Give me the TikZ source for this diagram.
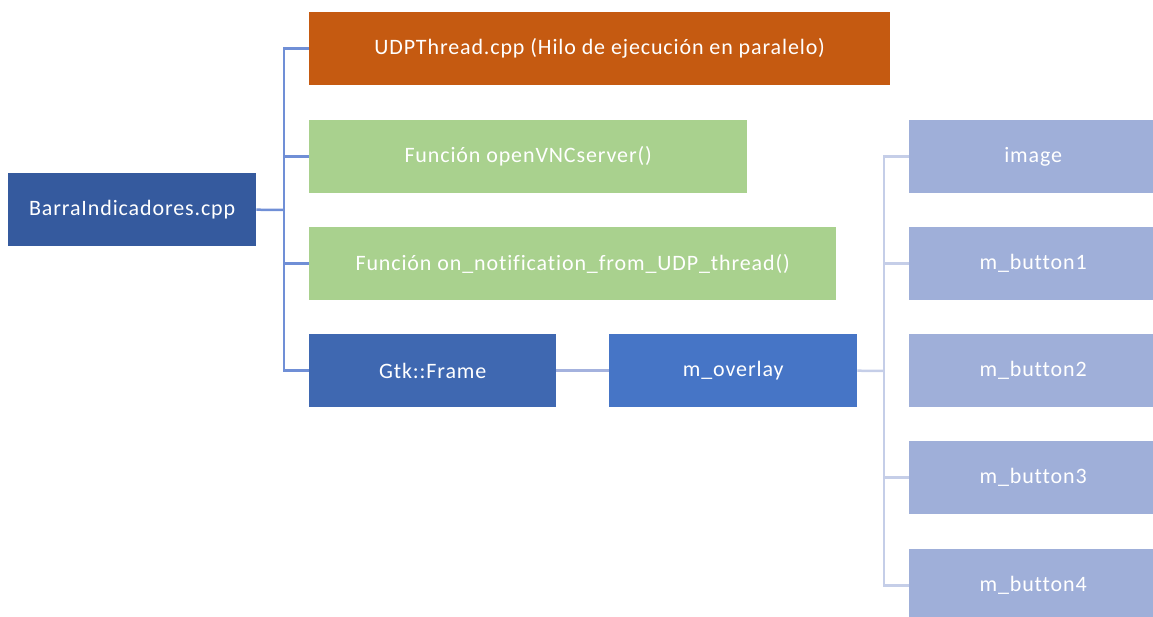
\documentclass[tikz,border=0pt]{standalone}
\usepackage{fontspec}
\setmainfont{Carlito}[LetterSpace=4,Ligatures={NoCommon}]
\begin{document}
\begin{tikzpicture}[x=1pt,y=-1pt,
  box/.style={draw=none,inner sep=0pt,anchor=north west,minimum height=73pt,
    text=white,font=\fontsize{22}{26}\selectfont},
  lvlA/.style={line width=2.5pt,draw={rgb,255:red,112;green,143;blue,214}},
  lvlB/.style={line width=2.5pt,draw={rgb,255:red,164;green,178;blue,222}},
  lvlC/.style={line width=2.5pt,draw={rgb,255:red,197;green,206;blue,232}}]
\useasboundingbox (0,0) rectangle (1153,616);
\definecolor{rootblue}{RGB}{53,90,158}
\definecolor{threadorange}{RGB}{197,90,17}
\definecolor{funcgreen}{RGB}{169,209,142}
\definecolor{frameblue}{RGB}{63,104,177}
\definecolor{overlayblue}{RGB}{70,117,198}
\definecolor{childblue}{RGB}{159,175,217}

% root
\node[box,fill=rootblue,minimum width=248pt] (barra) at (8,173) {BarraIndicadores.cpp};

% first level
\node[box,fill=threadorange,minimum width=581pt] (udp) at (309,12) {UDPThread.cpp (Hilo de ejecución en paralelo)};
\node[box,fill=funcgreen,minimum width=438pt] (vnc) at (309,120) {Función openVNCserver()};
\node[box,fill=funcgreen,minimum width=527pt] (notif) at (309,227) {Función on\_notification\_from\_UDP\_thread()};
\node[box,fill=frameblue,minimum width=247pt] (gtk) at (309,334) {Gtk::Frame};

% second level
\node[box,fill=overlayblue,minimum width=248pt] (ovl) at (609,334) {m\_overlay};

% children of m_overlay
\node[box,fill=childblue,minimum width=248pt] (img) at (909,120) {image};
\node[box,fill=childblue,minimum width=248pt] (b1) at (909,227) {m\_button1};
\node[box,fill=childblue,minimum width=248pt] (b2) at (909,334) {m\_button2};
\node[box,fill=childblue,minimum width=248pt] (b3) at (909,441) {m\_button3};
\node[box,fill=childblue,minimum width=248pt] (b4) at (909,549) {m\_button4};

% bus joints
\coordinate (busA) at (284,210);
\coordinate (busB) at (884,371);

% root connectors
\draw[lvlA] (barra.east) -- (busA);
\draw[lvlA] (udp.west) -| (busA);
\draw[lvlA] (gtk.west) -| (busA);
\draw[lvlA] (vnc.west) -- (vnc.west -| busA);
\draw[lvlA] (notif.west) -- (notif.west -| busA);

% frame to overlay
\draw[lvlB] (gtk.east) -- (ovl.west);

% overlay children
\draw[lvlC] (ovl.east) -- (busB);
\draw[lvlC] (img.west) -| (busB);
\draw[lvlC] (b4.west) -| (busB);
\draw[lvlC] (b1.west) -- (b1.west -| busB);
\draw[lvlC] (b3.west) -- (b3.west -| busB);
\end{tikzpicture}
\end{document}
